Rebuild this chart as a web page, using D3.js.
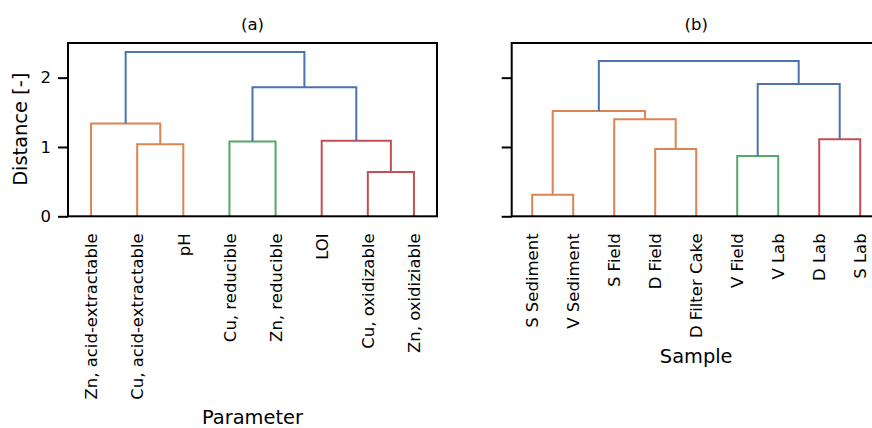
<!DOCTYPE html>
<html>
<head>
    <script src="https://cdn.jsdelivr.net/npm/d3@7"></script>
    <style type="text/css">
        body { margin: 0; background: white; }
        svg { display: block; font-family: "DejaVu Sans"; }
        .axis path, .axis line { stroke: black; stroke-width: 2; fill: none; }
        .axis text { font-family: "DejaVu Sans"; font-size: 16.5px; fill: black; }
        .frame { fill: none; stroke: black; stroke-width: 2; }
        .link { fill: none; stroke-width: 2; }
        text.title { font-size: 16.5px; text-anchor: middle; }
        text.label { font-size: 19.4px; text-anchor: middle; }
    </style>
</head>
<body>
<div id="chart"></div>
<script type="text/javascript">
    // panel (a): parameters
    var paramLeaves = ["Zn, acid-extractable", "Cu, acid-extractable", "pH", "Cu, reducible",
        "Zn, reducible", "LOI", "Cu, oxidizable", "Zn, oxidiziable"];
    // linkage rows: [child a, child b, distance, cluster]  (node ids >= n are earlier merges)
    var paramLinks = [
        [1, 2, 1.04, 1],
        [0, 8, 1.34, 1],
        [3, 4, 1.08, 2],
        [6, 7, 0.64, 3],
        [5, 11, 1.09, 3],
        [10, 12, 1.86, 0],
        [9, 13, 2.37, 0]
    ];

    // panel (b): samples
    var sampleLeaves = ["S Sediment", "V Sediment", "S Field", "D Field", "D Filter Cake",
        "V Field", "V Lab", "D Lab", "S Lab"];
    var sampleLinks = [
        [0, 1, 0.31, 1],
        [3, 4, 0.97, 1],
        [2, 10, 1.40, 1],
        [9, 11, 1.52, 1],
        [5, 6, 0.87, 2],
        [7, 8, 1.11, 3],
        [13, 14, 1.91, 0],
        [12, 15, 2.24, 0]
    ];

    var yTicks = [0, 1, 2];
    var yMax = 2.5;
    var clusterColors = ["#4c72b0", "#dd8452", "#55a868", "#c44e52"];

    var W = 872, H = 428;
    var marginTop = 43, height = 173.3, width = 369;

    var svg = d3.select("#chart").append("svg")
        .attr("width", W)
        .attr("height", H);

    var y = d3.scaleLinear().domain([0, yMax]).range([height, 0]);

    drawPanel(68, paramLeaves, paramLinks, "(a)", "Parameter", true);
    drawPanel(511.7, sampleLeaves, sampleLinks, "(b)", "Sample", false);

    function drawPanel(left, leaves, links, title, xlabel, yLabels) {
        var g = svg.append("g")
            .attr("transform", "translate(" + left + "," + marginTop + ")");

        var x = d3.scalePoint()
            .domain(leaves)
            .range([0, width])
            .padding(0.5);

        // position of every node: leaves first, then merges
        var nodeX = leaves.map(function (d) { return x(d); });
        var nodeY = leaves.map(function () { return 0; });
        links.forEach(function (l) {
            nodeX.push((nodeX[l[0]] + nodeX[l[1]]) / 2);
            nodeY.push(l[2]);
        });

        g.selectAll(".link")
            .data(links)
            .enter().append("path")
            .attr("class", "link")
            .attr("stroke", function (d) { return clusterColors[d[3]]; })
            .attr("d", function (d) {
                return "M" + nodeX[d[0]] + "," + y(nodeY[d[0]]) +
                    "V" + y(d[2]) +
                    "H" + nodeX[d[1]] +
                    "V" + y(nodeY[d[1]]);
            });

        var xAxis = g.append("g")
            .attr("class", "axis")
            .attr("transform", "translate(0," + height + ")")
            .call(d3.axisBottom(x).tickSize(0).tickPadding(0));
        xAxis.select(".domain").remove();
        xAxis.selectAll("text")
            .attr("transform", "rotate(-90)")
            .attr("x", -17)
            .attr("y", 0)
            .attr("dy", "0.35em")
            .style("text-anchor", "end");

        var yAxis = d3.axisLeft(y)
            .tickValues(yTicks)
            .tickSize(10)
            .tickPadding(7)
            .tickFormat(yLabels ? d3.format("d") : "");
        var ya = g.append("g")
            .attr("class", "axis")
            .call(yAxis);
        ya.select(".domain").remove();

        g.append("rect")
            .attr("class", "frame")
            .attr("width", width)
            .attr("height", height);

        g.append("text")
            .attr("class", "title")
            .attr("x", width / 2)
            .attr("y", -13)
            .text(title);

        // x label sits below the longest tick label
        var maxLen = d3.max(xAxis.selectAll("text").nodes(), function (t) {
            return t.getComputedTextLength();
        });
        g.append("text")
            .attr("class", "label")
            .attr("x", width / 2)
            .attr("y", height + 17 + maxLen + 24.5)
            .text(xlabel);

        if (yLabels) {
            g.append("text")
                .attr("class", "label")
                .attr("transform", "rotate(-90)")
                .attr("x", -86.3)
                .attr("y", -41)
                .text("Distance [-]");
        }
    }
</script>
</body>
</html>
